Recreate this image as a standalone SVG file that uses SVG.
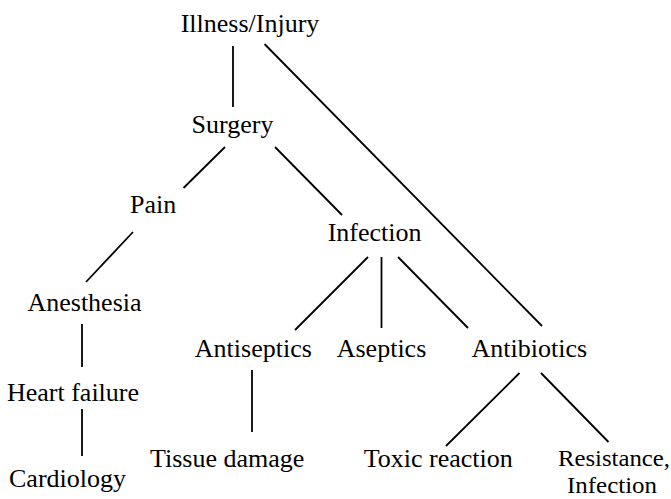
<svg xmlns="http://www.w3.org/2000/svg" width="671" height="499" viewBox="0 0 671 499">
<style>
.t{font-family:"Liberation Serif","Times New Roman",serif;font-size:26px;fill:#000;text-anchor:middle}
.s{font-size:24px}
.c line{stroke:#000;stroke-width:1.8;stroke-linecap:butt}
</style>
<rect width="671" height="499" fill="#fff"/>
<g class="c" id="connectors">
<line x1="233" y1="46" x2="233" y2="107"/>
<line x1="264.5" y1="44" x2="542" y2="326"/>
<line x1="225" y1="147" x2="183.5" y2="188"/>
<line x1="275" y1="147" x2="342" y2="215"/>
<line x1="133" y1="232" x2="86" y2="282"/>
<line x1="82" y1="324" x2="82" y2="367"/>
<line x1="82" y1="409" x2="82" y2="456"/>
<line x1="368" y1="257" x2="295" y2="330"/>
<line x1="381.5" y1="257" x2="381.5" y2="328"/>
<line x1="398" y1="257" x2="468" y2="328"/>
<line x1="252" y1="370" x2="252" y2="432"/>
<line x1="519.5" y1="373" x2="446" y2="446"/>
<line x1="541" y1="373" x2="608.5" y2="442"/>
</g>
<g id="n-illness"><text class="t" x="250" y="32">Illness/Injury</text></g>
<g id="n-surgery"><text class="t" x="232.5" y="133">Surgery</text></g>
<g id="n-pain"><text class="t" x="153.2" y="213">Pain</text></g>
<g id="n-infection"><text class="t" x="374.6" y="241">Infection</text></g>
<g id="n-anesthesia"><text class="t" x="84.5" y="311">Anesthesia</text></g>
<g id="n-heart"><text class="t" x="73" y="401">Heart failure</text></g>
<g id="n-cardiology"><text class="t" x="67.5" y="487">Cardiology</text></g>
<g id="n-antiseptics"><text class="t" x="253.3" y="357">Antiseptics</text></g>
<g id="n-aseptics"><text class="t" x="381.5" y="357">Aseptics</text></g>
<g id="n-antibiotics"><text class="t" x="529.3" y="357">Antibiotics</text></g>
<g id="n-tissue"><text class="t" x="227.2" y="467">Tissue damage</text></g>
<g id="n-toxic"><text class="t" x="438.3" y="467">Toxic reaction</text></g>
<g id="n-resistance"><text class="t s" x="614" y="466" textLength="112" lengthAdjust="spacingAndGlyphs">Resistance,</text><text class="t s" x="612" y="493" textLength="90" lengthAdjust="spacingAndGlyphs">Infection</text></g>
</svg>
